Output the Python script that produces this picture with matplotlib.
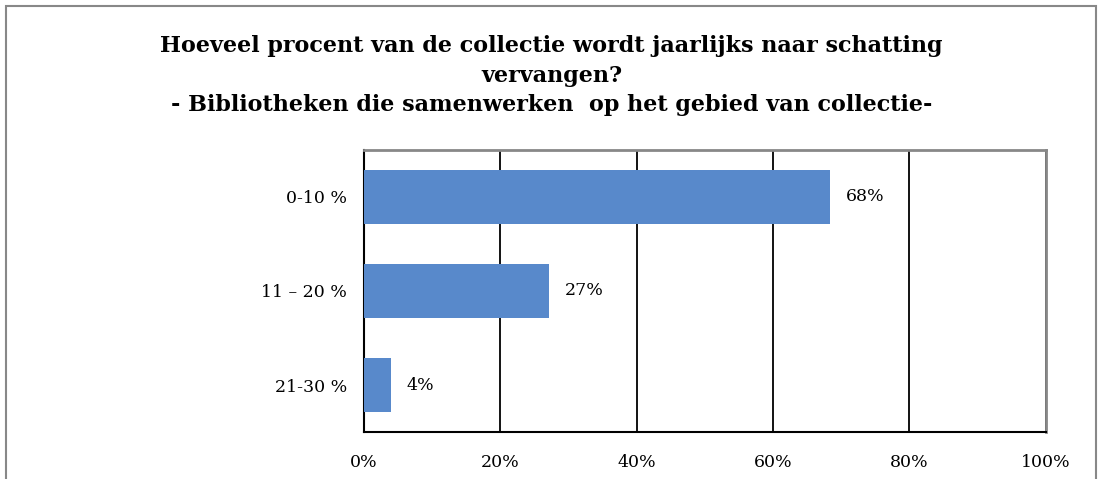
import matplotlib.pyplot as plt
from matplotlib.patches import Rectangle

# data
categories = ["0-10 %", "11 – 20 %", "21-30 %"]
shares = [0.684, 0.271, 0.040]
share_labels = ["68%", "27%", "4%"]
x_ticks = [0, 0.2, 0.4, 0.6, 0.8, 1.0]
x_tick_labels = ["0%", "20%", "40%", "60%", "80%", "100%"]

title = ("Hoeveel procent van de collectie wordt jaarlijks naar schatting\n"
         "vervangen?\n"
         "- Bibliotheken die samenwerken  op het gebied van collectie-")

plt.rcParams["font.family"] = ["DejaVu Serif"]

fig = plt.figure(figsize=(11.03, 4.79), dpi=100)
ax = fig.add_axes([0.330, 0.098, 0.618, 0.589])

# gray frame round the whole chart (bottom edge is cut off in the reference)
fig.patches.append(Rectangle((6 / 1103, -0.05), 1090 / 1103, 1.05 - 6 / 479,
                             transform=fig.transFigure, fill=False,
                             edgecolor="#888888", linewidth=1.5))

ypos = list(range(len(categories)))
ax.barh(ypos, shares, height=0.58, color="#5889CB", zorder=3)

for y, v, lab in zip(ypos, shares, share_labels):
    ax.text(v + 0.023, y, lab, va="center", ha="left", fontsize=12.5)

ax.set_xlim(0, 1.0)
ax.set_ylim(len(categories) - 0.5, -0.5)
ax.set_xticks(x_ticks)
ax.set_xticklabels(x_tick_labels, fontsize=12.5)
ax.set_yticks(ypos)
ax.set_yticklabels(categories, fontsize=12.5)
ax.tick_params(length=0)
ax.tick_params(axis="x", pad=16)
ax.tick_params(axis="y", pad=12)

ax.grid(axis="x", color="black", linewidth=1.3, zorder=0)
ax.set_axisbelow(True)
for side in ["left", "bottom"]:
    ax.spines[side].set_color("black")
    ax.spines[side].set_linewidth(1.5)
for side in ["top", "right"]:
    ax.spines[side].set_color("#888888")
    ax.spines[side].set_linewidth(2)

fig.text(0.5, 1 - 35 / 479, title, ha="center", va="top", fontsize=16,
         fontweight="bold", linespacing=1.45)

fig.savefig("out.png", dpi=100)
